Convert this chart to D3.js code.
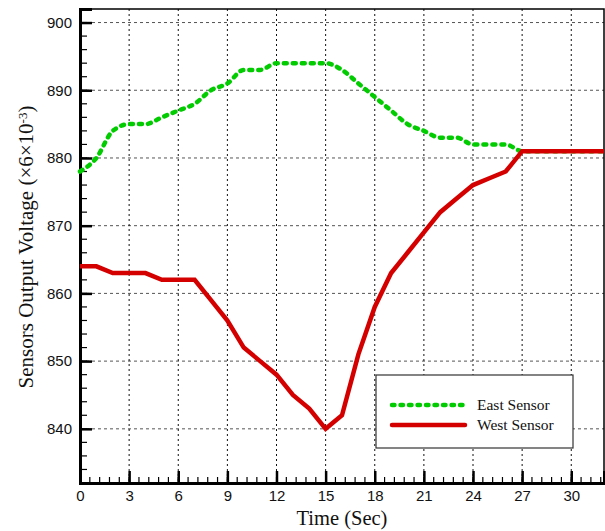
<!DOCTYPE html>
<html>
<head>
<meta charset="utf-8">
<script src="https://cdn.jsdelivr.net/npm/d3@7"></script>
<style>
  body { margin: 0; background: #fff; }
  svg { display: block; }
</style>
</head>
<body>
<div id="chart"></div>
<script>
// data
var timeSec = [0,1,2,3,4,5,6,7,8,9,10,11,12,13,14,15,16,17,18,19,20,21,22,23,24,25,26,27,28,29,30,31,32];
var eastSensor = [878,880,884,885,885,886,887,888,890,891,893,893,894,894,894,894,893,891,889,887,885,884,883,883,882,882,882,881,881,881,881,881,881];
var westSensor = [864,864,863,863,863,862,862,862,859,856,852,850,848,845,843,840,842,851,858,863,866,869,872,874,876,877,878,881,881,881,881,881,881];
var xTicks = [0,3,6,9,12,15,18,21,24,27,30];
var yTicks = [840,850,860,870,880,890,900];
var legendNames = ["East Sensor", "West Sensor"];

var width = 605, height = 531;
var pLeft = 80, pRight = 604, pTop = 9, pBottom = 483;

var svg = d3.select("#chart").append("svg")
    .attr("width", width)
    .attr("height", height);

var xScale = d3.scaleLinear().domain([0, 32]).range([pLeft, pRight]);
var yScale = d3.scaleLinear().domain([832, 902]).range([pBottom, pTop]);

/* grid */
svg.append("g").selectAll("line")
    .data(yTicks)
    .join("line")
    .attr("x1", pLeft).attr("x2", pRight)
    .attr("y1", d => yScale(d)).attr("y2", d => yScale(d))
    .attr("stroke", "#555")
    .attr("stroke-width", 1)
    .attr("stroke-dasharray", "3,3");

svg.append("g").selectAll("line")
    .data(xTicks.filter(d => d > 0))
    .join("line")
    .attr("x1", d => xScale(d)).attr("x2", d => xScale(d))
    .attr("y1", pTop).attr("y2", pBottom)
    .attr("stroke", "#111")
    .attr("stroke-width", 1)
    .attr("stroke-dasharray", "2,3");

/* frame */
svg.append("rect")
    .attr("x", pLeft).attr("y", pTop)
    .attr("width", pRight - pLeft).attr("height", pBottom - pTop)
    .attr("fill", "none")
    .attr("stroke", "#000")
    .attr("stroke-width", 1.5);

/* minor ticks */
var xMinor = d3.range(0, 32.01, 0.6).map(d => +d.toFixed(1));
svg.append("g").selectAll("line")
    .data(xMinor)
    .join("line")
    .attr("x1", d => xScale(d)).attr("x2", d => xScale(d))
    .attr("y1", pBottom).attr("y2", pBottom - 6)
    .attr("stroke", "#000").attr("stroke-width", 1.2);

var yMinor = d3.range(832, 902.1, 2);
svg.append("g").selectAll("line")
    .data(yMinor)
    .join("line")
    .attr("x1", pLeft).attr("x2", pLeft + 7)
    .attr("y1", d => yScale(d)).attr("y2", d => yScale(d))
    .attr("stroke", "#000").attr("stroke-width", 1.2);

/* axes */
var xAxis = d3.axisBottom(xScale).tickValues(xTicks).tickSize(-12).tickPadding(7);
var gx = svg.append("g")
    .attr("transform", `translate(0, ${pBottom})`)
    .call(xAxis);

var yAxis = d3.axisLeft(yScale).tickValues(yTicks).tickSize(-12).tickPadding(8);
var gy = svg.append("g")
    .attr("transform", `translate(${pLeft}, 0)`)
    .call(yAxis);

[gx, gy].forEach(function(g) {
    g.select(".domain").attr("stroke", "#000").attr("stroke-width", 3);
    g.selectAll(".tick line").attr("stroke", "#000").attr("stroke-width", 2.5);
    g.selectAll("text")
        .attr("fill", "#111")
        .style("font-family", "'Liberation Sans', Arial, sans-serif")
        .style("font-size", "15px");
});

/* lines */
var eastLine = d3.line()
    .x((d, i) => xScale(timeSec[i]))
    .y(d => yScale(d))
    .curve(d3.curveMonotoneX);

var westLine = d3.line()
    .x((d, i) => xScale(timeSec[i]))
    .y(d => yScale(d));

svg.append("path")
    .datum(eastSensor)
    .attr("d", eastLine)
    .attr("fill", "none")
    .attr("stroke", "#00cc00")
    .attr("stroke-width", 4.5)
    .attr("stroke-linecap", "round")
    .attr("stroke-dasharray", "3,6");

svg.append("path")
    .datum(westSensor)
    .attr("d", westLine)
    .attr("fill", "none")
    .attr("stroke", "#d40000")
    .attr("stroke-width", 4.5)
    .attr("stroke-linejoin", "miter");

/* legend */
var legend = svg.append("g");
legend.append("rect")
    .attr("x", 376).attr("y", 375)
    .attr("width", 197).attr("height", 73)
    .attr("fill", "#fff")
    .attr("stroke", "#333")
    .attr("stroke-width", 1.2);

var legendStyles = [
    {color: "#00cc00", dash: "2.5,6"},
    {color: "#d40000", dash: null}
];
legendNames.forEach(function(name, i) {
    var ly = 405 + i * 20;
    legend.append("line")
        .attr("x1", 392).attr("x2", 465)
        .attr("y1", ly).attr("y2", ly)
        .attr("stroke", legendStyles[i].color)
        .attr("stroke-width", 4.5)
        .attr("stroke-linecap", "round")
        .attr("stroke-dasharray", legendStyles[i].dash);
    legend.append("text")
        .attr("x", 477).attr("y", ly + 5)
        .style("font-family", "'Liberation Serif', 'Times New Roman', serif")
        .style("font-size", "15.5px")
        .attr("fill", "#111")
        .text(name);
});

/* axis titles */
svg.append("text")
    .attr("x", 342)
    .attr("y", 525)
    .attr("text-anchor", "middle")
    .style("font-family", "'Liberation Serif', 'Times New Roman', serif")
    .style("font-size", "20.5px")
    .attr("fill", "#111")
    .text("Time (Sec)");

var yTitle = svg.append("text")
    .attr("transform", "translate(33, 247) rotate(-90)")
    .attr("text-anchor", "middle")
    .style("font-family", "'Liberation Serif', 'Times New Roman', serif")
    .style("font-size", "21px")
    .attr("fill", "#111");
yTitle.append("tspan").text("Sensors Output Voltage (×6×10");
yTitle.append("tspan").attr("dy", "-0.5em").style("font-size", "13px").text("-3");
yTitle.append("tspan").attr("dy", "0.32em").text(")");
</script>
</body>
</html>
